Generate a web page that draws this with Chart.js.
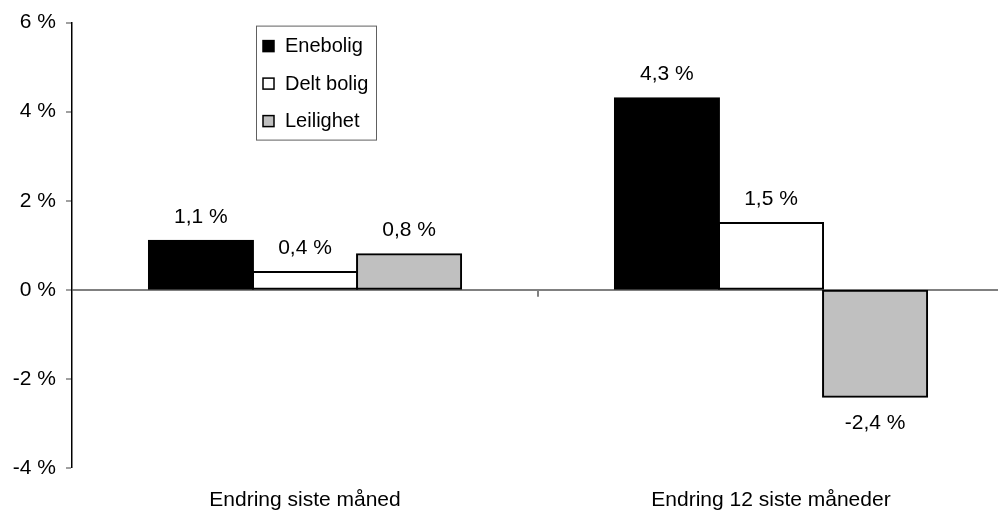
<!DOCTYPE html>
<html>
<head>
<meta charset="utf-8">
<script src="https://cdn.jsdelivr.net/npm/chart.js@4"></script>
<style>
  html, body { margin: 0; padding: 0; background: #fff; overflow: hidden; }
</style>
</head>
<body>
<canvas id="prisChart" width="1006" height="510"></canvas>
<script>
const categories = ["Endring siste måned", "Endring 12 siste måneder"];
const seriesNames = ["Enebolig", "Delt bolig", "Leilighet"];
const enebolig = [1.1, 4.3];
const deltBolig = [0.4, 1.5];
const leilighet = [0.8, -2.4];
const yTicks = [-4, -2, 0, 2, 4, 6];

const FONT = "'Liberation Sans', Arial, sans-serif";

function pct(v) {
  return v.toFixed(1).replace(".", ",") + " %";
}

// value labels over / under each bar
const valueLabels = {
  id: "valueLabels",
  afterDatasetsDraw(chart) {
    const ctx = chart.ctx;
    ctx.save();
    ctx.font = "21px " + FONT;
    ctx.fillStyle = "#000";
    ctx.textAlign = "center";
    ctx.textBaseline = "middle";
    chart.data.datasets.forEach((ds, i) => {
      chart.getDatasetMeta(i).data.forEach((bar, j) => {
        const v = ds.data[j];
        const y = v >= 0 ? bar.y - 24 : bar.y + 26;
        ctx.fillText(pct(v), bar.x, y);
      });
    });
    ctx.restore();
  }
};

// small tick on the zero line between the categories
const midTick = {
  id: "midTick",
  afterDatasetsDraw(chart) {
    const x = chart.scales.x;
    const y0 = chart.scales.y.getPixelForValue(0);
    const ctx = chart.ctx;
    ctx.save();
    ctx.strokeStyle = "#808080";
    ctx.lineWidth = 2;
    for (let i = 0; i < categories.length - 1; i++) {
      const px = Math.round((x.getPixelForValue(i) + x.getPixelForValue(i + 1)) / 2);
      ctx.beginPath();
      ctx.moveTo(px, y0);
      ctx.lineTo(px, y0 + 7);
      ctx.stroke();
    }
    ctx.restore();
  }
};

// boxed legend inside the plot
const boxLegend = {
  id: "boxLegend",
  afterDraw(chart) {
    const ctx = chart.ctx;
    const left = chart.chartArea.left + 184;
    const top = chart.chartArea.top + 3;
    ctx.save();
    ctx.strokeStyle = "#606060";
    ctx.lineWidth = 1;
    ctx.strokeRect(left + 0.5, top + 0.5, 120, 114);
    ctx.font = "20px " + FONT;
    ctx.textBaseline = "middle";
    chart.data.datasets.forEach((ds, i) => {
      const cy = top + 20 + i * 37.5;
      ctx.fillStyle = ds.backgroundColor;
      ctx.fillRect(left + 7, cy - 5, 11, 11);
      ctx.strokeStyle = "#000";
      ctx.lineWidth = 1.5;
      ctx.strokeRect(left + 7, cy - 5, 11, 11);
      ctx.fillStyle = "#000";
      ctx.fillText(ds.label, left + 29, cy + 1);
    });
    ctx.restore();
  }
};

const ctx = document.getElementById("prisChart").getContext("2d");
const chart = new Chart(ctx, {
  type: "bar",
  data: {
    labels: categories,
    datasets: [
      { label: seriesNames[0], data: enebolig, backgroundColor: "#000000" },
      { label: seriesNames[1], data: deltBolig, backgroundColor: "#ffffff" },
      { label: seriesNames[2], data: leilighet, backgroundColor: "#c0c0c0" }
    ].map(d => Object.assign(d, {
      borderColor: "#000",
      borderWidth: 2,
      borderSkipped: false,
      inflateAmount: 1,
      categoryPercentage: 0.67,
      barPercentage: 1
    }))
  },
  options: {
    responsive: false,
    animation: false,
    layout: { padding: { left: 0, right: 2, top: 20, bottom: 0 } },
    plugins: {
      legend: { display: false },
      tooltip: { enabled: false }
    },
    scales: {
      x: {
        grid: { display: false, drawTicks: false },
        border: { display: false },
        ticks: { color: "#000", font: { family: FONT, size: 21 }, padding: 20, maxRotation: 0 },
        afterFit(scale) { scale.height = 42; }
      },
      y: {
        min: -4,
        max: 6,
        afterBuildTicks(scale) { scale.ticks = yTicks.map(v => ({ value: v })); },
        grid: {
          color: c => (c.tick && c.tick.value === 0 ? "#808080" : "rgba(0,0,0,0)"),
          lineWidth: c => (c.tick && c.tick.value === 0 ? 2 : 0),
          tickColor: "#808080",
          tickWidth: 1.5,
          tickLength: 6
        },
        border: { color: "#000", width: 1.5 },
        ticks: {
          color: "#000",
          font: { family: FONT, size: 21 },
          padding: 10,
          callback: v => v + " %"
        },
        afterFit(scale) { scale.width = 72; }
      }
    }
  },
  plugins: [valueLabels, midTick, boxLegend]
});
</script>
</body>
</html>
